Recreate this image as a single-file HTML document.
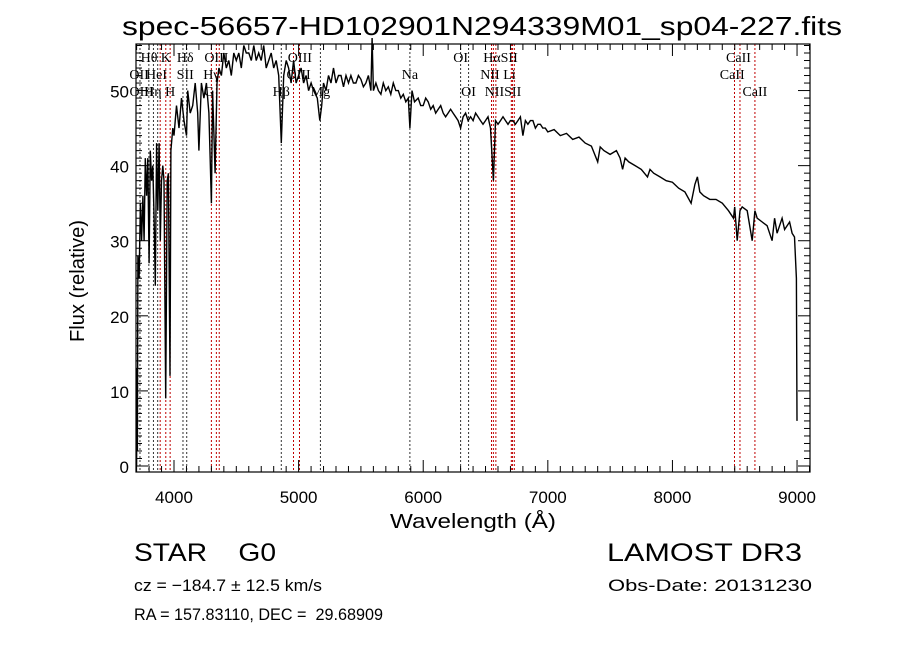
<!DOCTYPE html>
<html><head><meta charset="utf-8"><style>
body{margin:0;background:#fff;}
svg{display:block;}
text{font-family:"Liberation Sans",sans-serif;fill:#000;white-space:pre;}
.lab{font-family:"Liberation Serif",serif;font-size:14px;}
</style></head><body>
<svg id="chart" width="900" height="649" viewBox="0 0 900 649" xmlns="http://www.w3.org/2000/svg" xml:space="preserve">
<rect width="900" height="649" fill="#fff"/>
<text x="122" y="35" font-size="26" textLength="720" lengthAdjust="spacingAndGlyphs">spec-56657-HD102901N294339M01_sp04-227.fits</text>
<g id="lines"></g>
<g id="labels"></g>
<polyline id="spec" fill="none" stroke="#000" stroke-width="1.4"/>
<g id="axes"></g>
<text x="390" y="528" font-size="20" textLength="166" lengthAdjust="spacingAndGlyphs">Wavelength (Å)</text>
<text transform="translate(84,342) rotate(-90)" font-size="20" textLength="122" lengthAdjust="spacingAndGlyphs">Flux (relative)</text>
<text x="134" y="561" font-size="25" textLength="142" lengthAdjust="spacingAndGlyphs">STAR    G0</text>
<text x="607" y="561" font-size="25" textLength="195" lengthAdjust="spacingAndGlyphs">LAMOST DR3</text>
<text x="134" y="591" font-size="17" textLength="188" lengthAdjust="spacingAndGlyphs">cz = −184.7 ± 12.5 km/s</text>
<text x="608" y="591" font-size="17" textLength="204" lengthAdjust="spacingAndGlyphs">Obs-Date: 20131230</text>
<text x="134" y="620" font-size="17" textLength="249" lengthAdjust="spacingAndGlyphs">RA = 157.83110, DEC =  29.68909</text>
</svg>
<script>
const wave = [3700,3703,3706,3710,3720,3730,3740,3750,3760,3770,3780,3790,3800,3810,3820,3830,3840,3850,3860,3870,3880,3890,3900,3910,3920,3933,3945,3955,3968,3975,3990,4000,4020,4040,4060,4080,4100,4110,4130,4150,4170,4190,4200,4220,4240,4260,4280,4300,4310,4330,4345,4360,4380,4400,4420,4440,4460,4480,4500,4520,4540,4560,4580,4600,4620,4640,4660,4680,4700,4720,4740,4760,4780,4800,4820,4840,4861,4880,4900,4920,4940,4960,4980,5000,5020,5040,5060,5080,5100,5120,5150,5170,5185,5200,5220,5240,5260,5280,5300,5320,5340,5360,5380,5400,5420,5440,5460,5480,5500,5520,5540,5560,5580,5590,5600,5620,5640,5660,5680,5700,5720,5740,5760,5780,5800,5820,5840,5860,5880,5893,5910,5930,5960,5980,6000,6020,6040,6060,6080,6100,6120,6140,6160,6180,6200,6220,6240,6260,6280,6300,6320,6340,6360,6380,6400,6420,6440,6460,6480,6500,6520,6540,6563,6580,6600,6620,6640,6660,6680,6700,6720,6740,6760,6780,6800,6820,6840,6860,6880,6900,6920,6940,6960,6980,7000,7050,7100,7150,7200,7250,7300,7350,7400,7420,7450,7500,7550,7580,7600,7620,7650,7700,7750,7800,7820,7850,7900,7950,8000,8050,8100,8150,8180,8200,8220,8250,8300,8350,8400,8450,8490,8500,8520,8542,8560,8600,8640,8662,8680,8720,8760,8800,8820,8840,8880,8900,8940,8960,8980,8995,9000,9003];
const flux = [0,13,2,28,25,35,30,36,30,41,36,41,27,42,38,40,33,24,43,34,43,30,38,40,38,9,38,39,12,42,45,44,48,45,49,46,44,50,47,48,51,47,42,51,49,51,47,35,50,39,51,53,52,55,53,54,52,55,54,55,53,56,55,55,54,56,54,55,54,56,53,54,55,53,54,52,43,52,54,53,51,54,51,52,53,51,52,50,51,50,49,46,48,51,50,52,51,53,51,52,52,50.5,52,51,52,51,51,52,51.5,50.5,51,52,50,57,50,51,50,49.5,51,50,50.5,49.5,51,50,50,49,49.5,48.5,49,45,50,48.5,49,48,48,49,48.5,47.5,48,47,47.5,48,47,46.5,47,47.5,47,46.5,46,45,46.5,47,46,46.5,46,47,46.5,46,45.5,46,46.5,45,38,46,45.5,46,46.5,46,45.5,46,46,45.5,46,46.5,44,46,45.5,46,46,45,45.5,45.5,45,45,44.5,44.8,44,44.3,43.5,43.8,43,42.6,40.5,42.5,42,41.5,42,41,39.5,41,40.5,40,39.5,38.5,39.5,39,38.5,38,37.8,37,36.5,35,37.5,38.5,36.5,36,35.5,35.5,35,34,33,34.5,30,34,34.5,34,30,34,33,32.5,32,30,33,31,33,31.5,32.5,31,30.5,25,6];
const lineWaves = [3727,3798,3835,3869,3889,3934,3969,4072,4102,4300,4340,4363,4861,4959,5007,5175,5893,6300,6364,6548,6563,6583,6707,6716,6731,8498,8542,8662];
const lineRed = [0,0,0,0,1,1,1,0,0,1,1,1,0,1,1,0,0,0,0,1,1,1,1,1,1,1,1,1];
const labelText = ["Hθ","K","Hδ","OIII","OIII","OI","HαSII","CaII","OII","HeI","SII","Hγ","OIII","Na","NII Li","CaII","OIII","Hη","H","G","Hβ","Mg","OI","NIISII","CaII"];
const labelWave = [3800,3934,4090,4340,5010,6300,6620,8530,3720,3860,4090,4300,5000,5893,6600,8480,3740,3830,3969,4280,4861,5175,6364,6640,8662];
const labelRow = [0,0,0,0,0,0,0,0,1,1,1,1,1,1,1,1,2,2,2,2,2,2,2,2,2];
const xTicks = [4000,5000,6000,7000,8000,9000];
const yTicks = [0,10,20,30,40,50];

const X0=136,X1=810,Y0=44,Y1=472;
const W0=3695,W1=9104,F0=-0.8,F1=56.2;
const xs=w=>X0+(w-W0)/(W1-W0)*(X1-X0);
const ys=f=>Y1-(f-F0)/(F1-F0)*(Y1-Y0);
const NS="http://www.w3.org/2000/svg";
function mk(tag,attrs,parent){const e=document.createElementNS(NS,tag);for(const k in attrs)e.setAttribute(k,attrs[k]);parent.appendChild(e);return e;}

const lg=document.getElementById('lines');
lineWaves.forEach((w,i)=>{
  const l=mk('line',{x1:xs(w),x2:xs(w),y1:Y0,y2:Y1,stroke:lineRed[i]?'#c00000':'#333','stroke-width':1,'stroke-dasharray':'2,2'},lg);
  
  
});
const lb=document.getElementById('labels');
labelText.forEach((t,i)=>{
  const e=mk('text',{x:xs(labelWave[i]),y:62+labelRow[i]*17,'text-anchor':'middle',class:'lab'},lb);
  e.textContent=t;
  
  
});
document.getElementById('spec').setAttribute('points',wave.map((w,i)=>xs(w).toFixed(1)+','+ys(flux[i]).toFixed(1)).join(' '));

const ax=document.getElementById('axes');
const fr=mk('rect',{x:X0,y:Y0,width:X1-X0,height:Y1-Y0,fill:'none',stroke:'#000','stroke-width':1.2},ax);


for(let w=3700;w<=9100;w+=100){
  const L=(w%1000===0)?12:6;const x=xs(w);
  mk('line',{x1:x,x2:x,y1:Y1,y2:Y1-L,stroke:'#000'},ax);
  mk('line',{x1:x,x2:x,y1:Y0,y2:Y0+L,stroke:'#000'},ax);
}
for(let f=0;f<=56;f+=1){
  const L=(f%10===0)?12:6;const y=ys(f);
  mk('line',{x1:X0,x2:X0+L,y1:y,y2:y,stroke:'#000'},ax);
  mk('line',{x1:X1,x2:X1-L,y1:y,y2:y,stroke:'#000'},ax);
}
xTicks.forEach(v=>{
  const t=mk('text',{x:xs(v),y:503,'text-anchor':'middle','font-size':17},ax);
  t.textContent=v;
  
  
});
yTicks.forEach(v=>{
  const t=mk('text',{x:129,y:ys(v)+7,'text-anchor':'end','font-size':17},ax);
  t.textContent=v;
  
  
});
</script>
</body></html>
